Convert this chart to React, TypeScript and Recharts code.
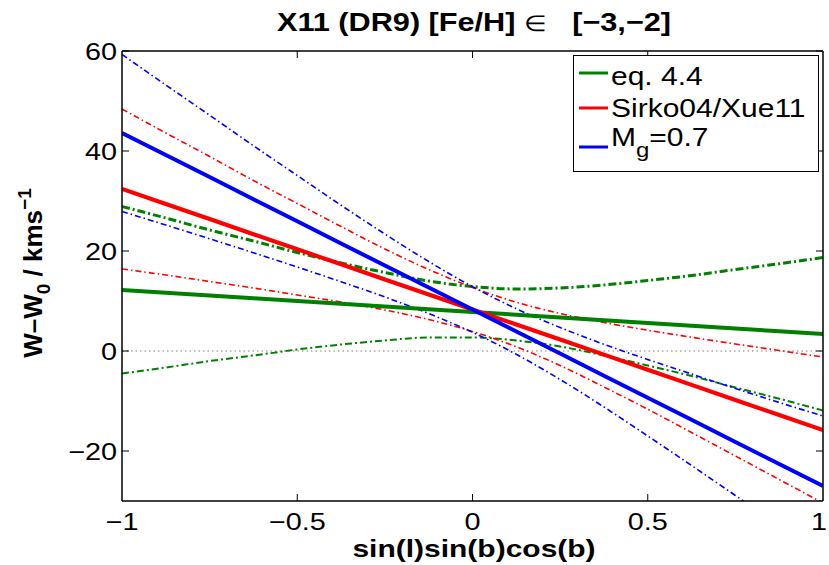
import React from 'react';
import {
  LineChart,
  Line,
  XAxis,
  YAxis,
  ReferenceLine,
  Legend,
} from 'recharts';

// x grid on sin(l)sin(b)cos(b)
const xs = [-1, -0.875, -0.75, -0.625, -0.5, -0.375, -0.25, -0.125, 0, 0.125, 0.25, 0.375, 0.5, 0.625, 0.75, 0.875, 1];

// eq. 4.4 (green)
const greenFit = [12.2, 11.65, 11.1, 10.55, 10.0, 9.45, 8.9, 8.35, 7.8, 7.25, 6.7, 6.15, 5.6, 5.05, 4.5, 3.95, 3.4];
const greenUpper = [28.9, 26.6, 24.2, 22.0, 19.7, 17.6, 15.7, 14.0, 12.9, 12.4, 12.6, 13.2, 14.1, 15.1, 16.3, 17.45, 18.7];
const greenLower = [-4.5, -3.3, -2.0, -0.9, 0.3, 1.3, 2.1, 2.7, 2.7, 2.1, 0.9, -0.9, -2.9, -5.0, -7.3, -9.55, -11.9];

// Sirko04/Xue11 (red)
const redFit = [32.4, 29.4, 26.4, 23.35, 20.35, 17.35, 14.3, 11.3, 8.3, 5.3, 2.3, -0.74, -3.75, -6.76, -9.8, -12.8, -15.8];
const redUpper = [48.4, 43.6, 38.9, 34.1, 29.5, 24.9, 20.4, 16.3, 12.7, 9.75, 7.5, 5.7, 4.15, 2.75, 1.4, 0.1, -1.2];
const redLower = [16.4, 15.2, 13.9, 12.6, 11.2, 9.8, 8.2, 6.3, 3.9, 0.85, -2.9, -7.2, -11.65, -16.3, -21.0, -25.7, -30.4];

// M_g = 0.7 (blue)
const blueFit = [43.6, 39.2, 34.8, 30.35, 25.95, 21.5, 17.1, 12.7, 8.3, 3.9, -0.5, -4.94, -9.35, -13.76, -18.2, -22.6, -27.0];
const blueUpper = [59.3, 53.2, 47.15, 41.05, 35.1, 29.15, 23.4, 17.9, 12.86, 8.46, 4.7, 1.35, -1.7, -4.6, -7.5, -10.3, -13.0];
const blueLower = [27.9, 25.2, 22.45, 19.65, 16.8, 13.85, 10.8, 7.5, 3.74, -0.66, -5.7, -11.2, -17.0, -22.9, -28.9, -34.9, -41.0];

const xTicks = [-1, -0.5, 0, 0.5, 1];
const yTicks = [-20, 0, 20, 40, 60];

const GREEN = '#008000';
const RED = '#ff0000';
const BLUE = '#0000ff';
const FONT = '"Liberation Sans", Arial, Helvetica, sans-serif';

const data = xs.map((x, i) => ({
  x,
  gFit: greenFit[i],
  gUp: greenUpper[i],
  gLo: greenLower[i],
  rFit: redFit[i],
  rUp: redUpper[i],
  rLo: redLower[i],
  bFit: blueFit[i],
  bUp: blueUpper[i],
  bLo: blueLower[i],
}));

const fmt = (v: number) => (v < 0 ? '\u2212' + String(-v) : String(v));

const BottomTick = ({ x, y, payload }: any) => (
  <g>
    {payload.value > -1 && payload.value < 1 && (
      <line x1={x} x2={x} y1={y} y2={y - 7} stroke="#000" strokeWidth={1} />
    )}
    <text
      transform={`translate(${payload.value === 1 ? x - 4 : x},${y + 29}) scale(1.2,1)`}
      textAnchor="middle"
      fontSize={24}
      fontFamily={FONT}
      fill="#000"
    >
      {fmt(payload.value)}
    </text>
  </g>
);

const TopTick = ({ x, y, payload }: any) =>
  payload.value > -1 && payload.value < 1 ? (
    <line x1={x} x2={x} y1={y} y2={y + 7} stroke="#000" strokeWidth={1} />
  ) : (
    <g />
  );

const LeftTick = ({ x, y, payload }: any) => (
  <g>
    <line x1={x} x2={x + 7} y1={y} y2={y} stroke="#000" strokeWidth={1} />
    <text
      transform={`translate(${x - 5},${y + 8.5}) scale(1.2,1)`}
      textAnchor="end"
      fontSize={24}
      fontFamily={FONT}
      fill="#000"
    >
      {fmt(payload.value)}
    </text>
  </g>
);

const RightTick = ({ x, y }: any) => (
  <line x1={x} x2={x - 7} y1={y} y2={y} stroke="#000" strokeWidth={1} />
);

const legendItems = [
  { color: GREEN, label: 'eq. 4.4', lineY: 18, textY: 30 },
  { color: RED, label: 'Sirko04/Xue11', lineY: 53, textY: 62 },
  { color: BLUE, label: 'M', lineY: 92, textY: 91 },
];

const renderLegend = () => (
  <svg width={246} height={118} style={{ display: 'block' }}>
    <rect x={0.5} y={0.5} width={245} height={116} fill="#fff" stroke="#000" strokeWidth={1} />
    {legendItems.map((it, i) => (
      <g key={i}>
        <line x1={6} x2={35} y1={it.lineY} y2={it.lineY} stroke={it.color} strokeWidth={3} />
        <text
          transform={`translate(38,${it.textY}) scale(1.2,1)`}
          fontSize={25}
          fontFamily={FONT}
          fill="#000"
        >
          {it.label}
          {i === 2 && (
            <>
              <tspan dy={11} fontSize={20}>g</tspan>
              <tspan dy={-11}>=0.7</tspan>
            </>
          )}
        </text>
      </g>
    ))}
  </svg>
);

const Labels = () => (
  <svg
    width={829}
    height={565}
    style={{ position: 'absolute', left: 0, top: 0, pointerEvents: 'none' }}
  >
    <text
      transform="translate(474,31) scale(1.18,1)"
      textAnchor="middle"
      fontSize={26}
      fontWeight="bold"
      fontFamily={FONT}
      fill="#000"
      style={{ whiteSpace: 'pre' }}
    >
      {'X11 (DR9) [Fe/H] '}
      <tspan fontWeight="normal" fontSize={22}>{'\u2208'}</tspan>
      {'   [\u22123,\u22122]'}
    </text>
    <text
      transform="translate(474,557) scale(1.25,1)"
      textAnchor="middle"
      fontSize={24}
      fontWeight="bold"
      fontFamily={FONT}
      fill="#000"
    >
      sin(l)sin(b)cos(b)
    </text>
    <text
      transform="translate(42,273) rotate(-90)"
      textAnchor="middle"
      fontSize={26}
      fontWeight="bold"
      fontFamily={FONT}
      fill="#000"
    >
      {'W\u2013W'}
      <tspan dy={8} fontSize={19}>0</tspan>
      <tspan dy={-8}>{' / kms'}</tspan>
      <tspan dy={-11} fontSize={19}>{'\u22121'}</tspan>
    </text>
  </svg>
);

export default function App() {
  return (
    <div style={{ position: 'absolute', left: 0, top: 0, width: 829, height: 565, background: '#fff' }}>
      <LineChart
        width={829}
        height={565}
        data={data}
        margin={{ top: 50, right: 5, bottom: 63, left: 121 }}
      >
        <XAxis
          dataKey="x"
          type="number"
          domain={[-1, 1]}
          ticks={xTicks}
          allowDataOverflow
          height={1}
          tickSize={0}
          tickMargin={0}
          tickLine={false}
          tick={<BottomTick />}
          axisLine={{ stroke: '#000', strokeWidth: 1.5 }}
        />
        <XAxis
          xAxisId="top"
          orientation="top"
          dataKey="x"
          type="number"
          domain={[-1, 1]}
          ticks={xTicks}
          allowDataOverflow
          height={1}
          tickSize={0}
          tickMargin={0}
          tickLine={false}
          tick={<TopTick />}
          axisLine={{ stroke: '#000', strokeWidth: 1.5 }}
        />
        <YAxis
          type="number"
          domain={[-30, 60]}
          ticks={yTicks}
          allowDataOverflow
          width={1}
          tickSize={0}
          tickMargin={0}
          tickLine={false}
          tick={<LeftTick />}
          axisLine={{ stroke: '#000', strokeWidth: 1.5 }}
        />
        <YAxis
          yAxisId="right"
          orientation="right"
          type="number"
          domain={[-30, 60]}
          ticks={yTicks}
          allowDataOverflow
          width={1}
          tickSize={0}
          tickMargin={0}
          tickLine={false}
          tick={<RightTick />}
          axisLine={{ stroke: '#000', strokeWidth: 1.5 }}
        />
        <ReferenceLine y={0} stroke="#808080" strokeWidth={1} strokeDasharray="1.5 3" />

        <Line type="monotone" dataKey="gUp" stroke={GREEN} strokeWidth={3} strokeDasharray="8 3 2 3" dot={false} activeDot={false} isAnimationActive={false} />
        <Line type="monotone" dataKey="gLo" stroke={GREEN} strokeWidth={2} strokeDasharray="7 3 2 3" dot={false} activeDot={false} isAnimationActive={false} />
        <Line type="monotone" dataKey="rUp" stroke={RED} strokeWidth={1.6} strokeDasharray="6 3 1.5 3" dot={false} activeDot={false} isAnimationActive={false} />
        <Line type="monotone" dataKey="rLo" stroke={RED} strokeWidth={1.6} strokeDasharray="6 3 1.5 3" dot={false} activeDot={false} isAnimationActive={false} />
        <Line type="monotone" dataKey="bUp" stroke={BLUE} strokeWidth={1.6} strokeDasharray="6 3 1.5 3" dot={false} activeDot={false} isAnimationActive={false} />
        <Line type="monotone" dataKey="bLo" stroke={BLUE} strokeWidth={1.6} strokeDasharray="6 3 1.5 3" dot={false} activeDot={false} isAnimationActive={false} />
        <Line type="linear" dataKey="gFit" stroke={GREEN} strokeWidth={4} dot={false} activeDot={false} isAnimationActive={false} />
        <Line type="linear" dataKey="rFit" stroke={RED} strokeWidth={4} dot={false} activeDot={false} isAnimationActive={false} />
        <Line type="linear" dataKey="bFit" stroke={BLUE} strokeWidth={4} dot={false} activeDot={false} isAnimationActive={false} />

        <Legend
          layout="vertical"
          align="center"
          verticalAlign="middle"
          wrapperStyle={{ left: 573, top: 55, width: 246, height: 118 }}
          content={renderLegend}
        />
      </LineChart>
      <Labels />
    </div>
  );
}
